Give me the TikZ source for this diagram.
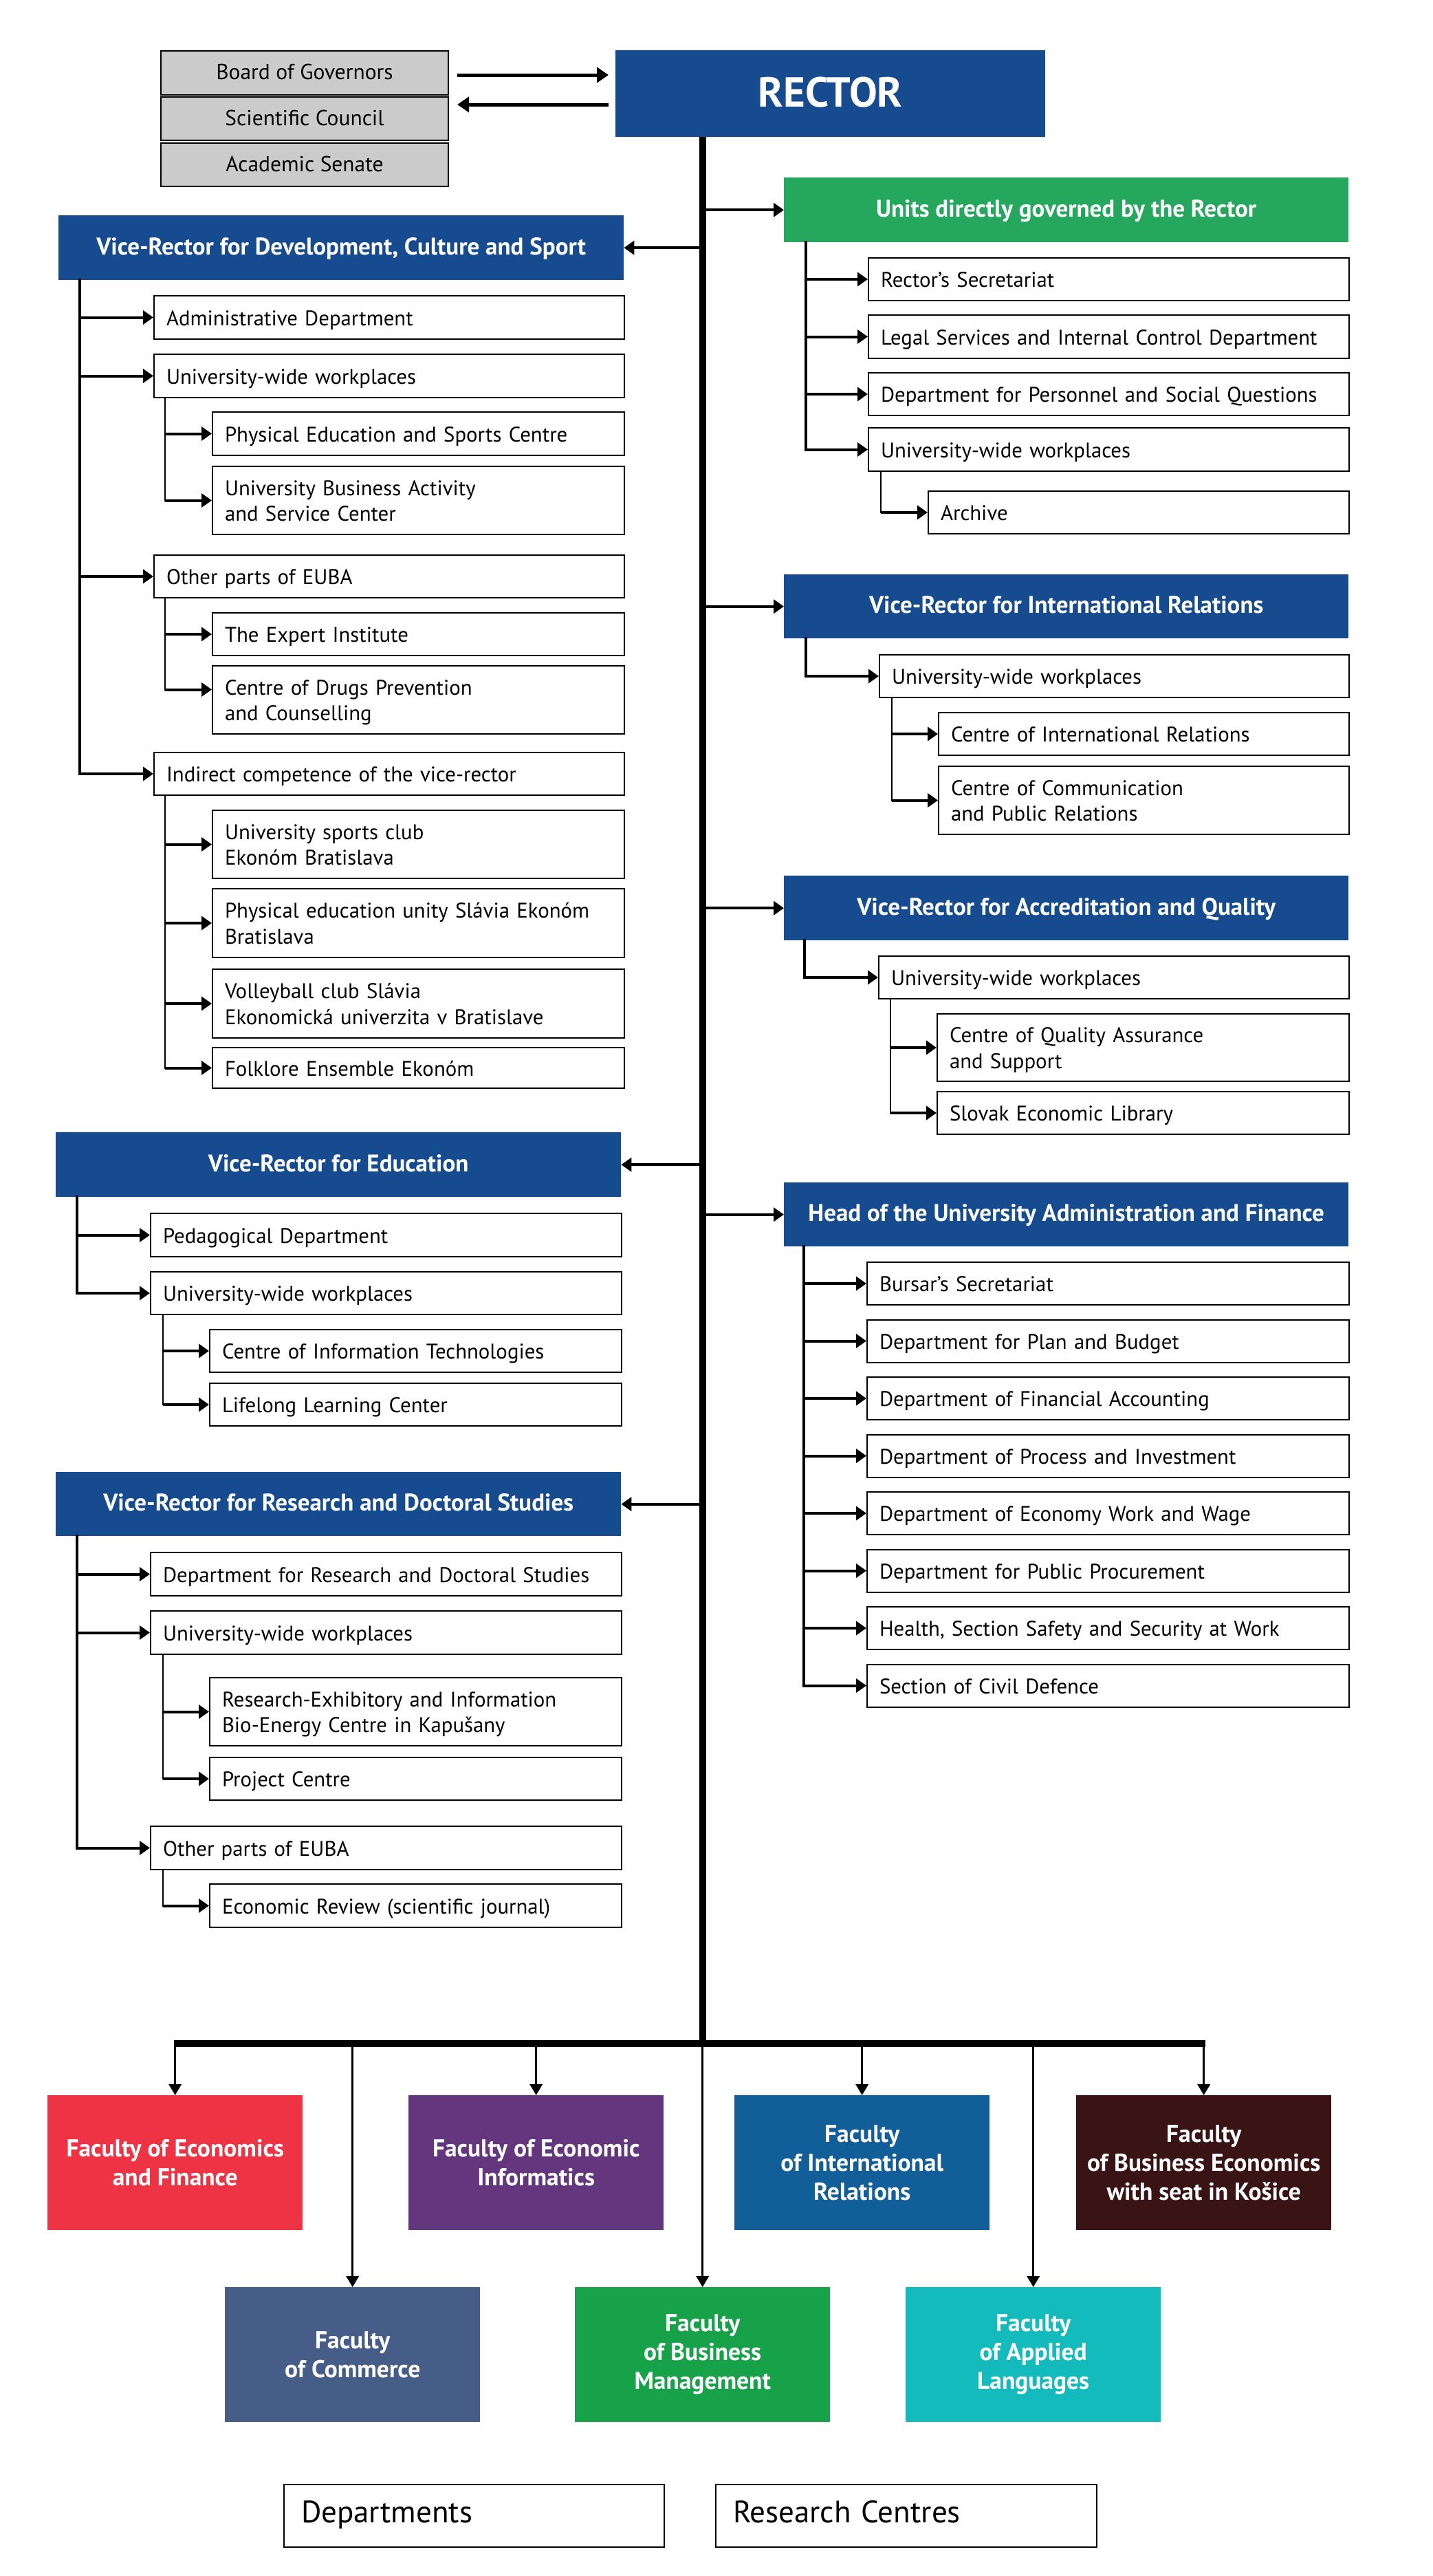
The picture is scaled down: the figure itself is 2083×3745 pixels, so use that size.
\documentclass[tikz,border=0pt]{standalone}
\usepackage{fontspec}
\setmainfont{PT Sans}
\usetikzlibrary{arrows.meta,calc}
\definecolor{vrblue}{HTML}{164B8F}
\definecolor{ugreen}{HTML}{25A85D}
\definecolor{fefred}{HTML}{EE3444}
\definecolor{feipurple}{HTML}{63367D}
\definecolor{firblue}{HTML}{115E99}
\definecolor{fbebrown}{HTML}{3A1414}
\definecolor{fcblue}{HTML}{465D87}
\definecolor{fbmgreen}{HTML}{17A24A}
\definecolor{falteal}{HTML}{13BBBC}
\definecolor{govgray}{HTML}{CCCBCB}
\newcommand\fsmall{\fontsize{30.8}{37.5}\selectfont}
\newcommand\fgov{\fontsize{31.5}{37.5}\selectfont}
\newcommand\fhdr{\fontsize{35}{40}\selectfont\bfseries}
\newcommand\ffac{\fontsize{35.5}{42}\selectfont\bfseries}
\newcommand\fleg{\fontsize{45}{50}\selectfont}
\newcommand\tstr[1]{\rule{0pt}{#1pt}}
\newcommand\bstr[1]{\rule[-#1pt]{0pt}{#1pt}}
\tikzset{
  wbox/.style={draw=black,line width=2pt,fill=white,anchor=north west,align=left,inner xsep=18pt,inner ysep=0pt,font=\fsmall},
  hbox/.style={anchor=north west,inner sep=0pt,text=white,font=\fhdr},
  fbox/.style={anchor=north west,inner sep=0pt,text=white,font=\ffac,align=center,minimum width=371pt,minimum height=196pt},
  gbox/.style={draw=black,line width=2pt,fill=govgray,anchor=north west,inner sep=0pt,font=\fgov,minimum width=418pt},
  legbox/.style={draw=black,line width=2pt,fill=white,anchor=north west,align=left,inner xsep=25pt,inner ysep=0pt,font=\fleg},
  arr/.style={line width=4pt,-{Triangle[length=15pt,width=20pt]}},
  tarr/.style={line width=5pt,-{Triangle[length=17pt,width=22pt]}},
  farr/.style={line width=3.5pt,-{Triangle[length=16pt,width=18pt]}},
  brl/.style={line width=4pt,line cap=rect},
  sbl/.style={line width=2.5pt,line cap=rect},
}
\newcommand\mkw[6]{%
  \pgfmathsetmacro\bw{#4-#2}\pgfmathsetmacro\bh{#5-#3}\pgfmathsetmacro\tw{#4-#2-36}%
  \node[wbox,minimum width=\bw pt,minimum height=\bh pt,text width=\tw pt] (#1) at (#2,#3) {\tstr{30.25}#6\bstr{7.25}};}
\newcommand\mkh[7]{%
  \pgfmathsetmacro\bw{#4-#2}\pgfmathsetmacro\bh{#5-#3}%
  \node[hbox,fill=#6,minimum width=\bw pt,minimum height=\bh pt] (#1) at (#2,#3) {\tstr{30}#7\bstr{10}};}
\newcommand\mkf[5]{%
  \node[fbox,fill=#4] (#1) at (#2,#3) {#5};}
\newcommand\mkg[4]{%
  \pgfmathsetmacro\bh{#3-#2}%
  \node[gbox,minimum height=\bh pt] (#1) at (233,#2) {\tstr{28.25}#4\bstr{9.25}};}
\begin{document}
\begin{tikzpicture}[x=1pt,y=-1pt]
\fill[white] (0,0) rectangle (2083,3745);
\useasboundingbox (0,0) rectangle (2083,3745);

% top
\mkg{board}{73}{137}{Board of Governors}
\mkg{sci}{140}{203}{Scientific Council}
\mkg{acad}{207}{270}{Academic Senate}
\node[hbox,fill=vrblue,minimum width=625pt,minimum height=126pt,font=\fontsize{61}{62}\selectfont\bfseries] (rector) at (895,73) {RECTOR\bstr{4}};

% headers
\mkh{units}{1140}{258}{1961}{352}{ugreen}{Units directly governed by the Rector}
\mkh{dev}{85}{313}{907}{407}{vrblue}{Vice-Rector for Development, Culture and Sport}
\mkh{intl}{1140}{835}{1961}{928}{vrblue}{Vice-Rector for International Relations}
\mkh{accr}{1140}{1273}{1961}{1367}{vrblue}{Vice-Rector for Accreditation and Quality}
\mkh{edu}{81}{1646}{903}{1740}{vrblue}{Vice-Rector for Education}
\mkh{head}{1140}{1719}{1961}{1812}{vrblue}{Head of the University Administration and Finance}
\mkh{res}{81}{2140}{903}{2233}{vrblue}{Vice-Rector for Research and Doctoral Studies}

% units
\mkw{rs}{1262}{374}{1961}{436}{Rector’s Secretariat}
\mkw{legal}{1262}{457}{1961}{520}{Legal Services and Internal Control Department}
\mkw{pers}{1262}{541}{1961}{603}{Department for Personnel and Social Questions}
\mkw{uwwa}{1262}{621}{1961}{684}{University-wide workplaces}
\mkw{archive}{1349}{713}{1961}{775}{Archive}

% intl
\mkw{uwwb}{1278}{951}{1961}{1013}{University-wide workplaces}
\mkw{cir}{1364}{1035}{1961}{1097}{Centre of International Relations}
\mkw{ccpr}{1364}{1113}{1961}{1212}{Centre of Communication\\and Public Relations}

% accr
\mkw{uwwc}{1277}{1389}{1961}{1451}{University-wide workplaces}
\mkw{cqas}{1362}{1473}{1961}{1571}{Centre of Quality Assurance\\and Support}
\mkw{sel}{1362}{1586}{1961}{1648}{Slovak Economic Library}

% head admin
\mkw{hA}{1260}{1834}{1961}{1896}{Bursar’s Secretariat}
\mkw{hB}{1260}{1917.5}{1961}{1979.5}{Department for Plan and Budget}
\mkw{hC}{1260}{2001}{1961}{2063}{Department of Financial Accounting}
\mkw{hD}{1260}{2084.5}{1961}{2146.5}{Department of Process and Investment}
\mkw{hE}{1260}{2168}{1961}{2230}{Department of Economy Work and Wage}
\mkw{hF}{1260}{2251.5}{1961}{2313.5}{Department for Public Procurement}
\mkw{hG}{1260}{2335}{1961}{2397}{Health, Section Safety and Security at Work}
\mkw{hH}{1260}{2418.5}{1961}{2480.5}{Section of Civil Defence}

% dev
\mkw{admin}{223}{429}{907}{492}{Administrative Department}
\mkw{uwwd}{223}{514}{907}{577}{University-wide workplaces}
\mkw{pesc}{308}{598}{907}{661}{Physical Education and Sports Centre}
\mkw{ubasc}{308}{677}{907}{776}{University Business Activity\\and Service Center}
\mkw{othera}{223}{806}{907}{868}{Other parts of EUBA}
\mkw{expert}{308}{890}{907}{952}{The Expert Institute}
\mkw{drugs}{308}{967}{907}{1066}{Centre of Drugs Prevention\\and Counselling}
\mkw{indirect}{223}{1093}{907}{1155}{Indirect competence of the vice-rector}
\mkw{usc}{308}{1177}{907}{1276}{University sports club\\Ekonóm Bratislava}
\mkw{peu}{308}{1291}{907}{1391}{Physical education unity Slávia Ekonóm\\Bratislava}
\mkw{vb}{308}{1408}{907}{1508}{Volleyball club Slávia\\Ekonomická univerzita v Bratislave}
\mkw{folk}{308}{1522}{907}{1581}{Folklore Ensemble Ekonóm}

% edu
\mkw{ped}{218}{1763}{903}{1826}{Pedagogical Department}
\mkw{uwwe}{218}{1848}{903}{1910}{University-wide workplaces}
\mkw{cit}{304}{1932}{903}{1994}{Centre of Information Technologies}
\mkw{llc}{304}{2010}{903}{2072}{Lifelong Learning Center}

% res
\mkw{drds}{218}{2256}{903}{2319}{Department for Research and Doctoral Studies}
\mkw{uwwf}{218}{2341}{903}{2404}{University-wide workplaces}
\mkw{rebc}{304}{2438}{903}{2537}{Research-Exhibitory and Information\\Bio-Energy Centre in Kapušany}
\mkw{proj}{304}{2554}{903}{2616}{Project Centre}
\mkw{otherb}{218}{2654}{903}{2717}{Other parts of EUBA}
\mkw{er}{304}{2738}{903}{2801}{Economic Review (scientific journal)}

% faculties
\mkf{fef}{69}{3046}{fefred}{Faculty of Economics\\and Finance}
\mkf{fei}{594}{3046}{feipurple}{Faculty of Economic\\Informatics}
\mkf{fir}{1068}{3046}{firblue}{Faculty\\of International\\Relations}
\mkf{fbe}{1565}{3046}{fbebrown}{Faculty\\of Business Economics\\with seat in Košice}
\mkf{fc}{327}{3325}{fcblue}{Faculty\\of Commerce}
\mkf{fbm}{836}{3325}{fbmgreen}{Faculty\\of Business\\Management}
\mkf{fal}{1317}{3325}{falteal}{Faculty\\of Applied\\Languages}

% legend
\node[legbox,minimum width=553pt,minimum height=91pt,text width=503pt] (dep) at (412,3611) {\strut Departments};
\node[legbox,minimum width=554pt,minimum height=91pt,text width=504pt] (rcs) at (1040,3611) {\strut Research Centres};

% top arrows
\path (board.east) ++(12,3) coordinate (ba);
\draw[tarr,shorten >=10pt] (ba) -- (ba -| rector.west);
\path (sci.east) ++(12,-20.5) coordinate (sa);
\draw[tarr,shorten <=10pt] (sa -| rector.west) -- (sa);

% trunk
\coordinate (tk) at ([xshift=127pt]rector.south west);
\coordinate (bar) at (1022,2971);
\draw[line width=10pt] (tk) -- (bar);
\foreach \n in {units,intl,accr,head}
  \draw[arr] (tk |- \n.west) -- (\n.west);
\foreach \n in {dev,edu,res}
  \draw[arr] (tk |- \n.east) -- (\n.east);

% branches right
\coordinate (bU) at ([xshift=32pt]units.south west);
\draw[brl] (bU) -- (bU |- uwwa.west);
\foreach \n in {rs,legal,pers,uwwa} \draw[arr] (bU |- \n.west) -- (\n.west);
\coordinate (sU) at ([xshift=19pt]uwwa.south west);
\draw[sbl] (sU) -- (sU |- archive.west);
\draw[arr] (sU |- archive.west) -- (archive.west);

\coordinate (bI) at ([xshift=32pt]intl.south west);
\draw[brl] (bI) -- (bI |- uwwb.west);
\draw[arr] (bI |- uwwb.west) -- (uwwb.west);
\coordinate (sI) at ([xshift=19pt]uwwb.south west);
\draw[sbl] (sI) -- (sI |- ccpr.west);
\foreach \n in {cir,ccpr} \draw[arr] (sI |- \n.west) -- (\n.west);

\coordinate (bA) at ([xshift=30pt]accr.south west);
\draw[brl] (bA) -- (bA |- uwwc.west);
\draw[arr] (bA |- uwwc.west) -- (uwwc.west);
\coordinate (sA) at ([xshift=18pt]uwwc.south west);
\draw[sbl] (sA) -- (sA |- sel.west);
\foreach \n in {cqas,sel} \draw[arr] (sA |- \n.west) -- (\n.west);

\coordinate (bH) at ([xshift=29pt]head.south west);
\draw[brl] (bH) -- (bH |- hH.west);
\foreach \n in {hA,hB,hC,hD,hE,hF,hG,hH} \draw[arr] (bH |- \n.west) -- (\n.west);

% branches left
\coordinate (bD) at ([xshift=31pt]dev.south west);
\draw[brl] (bD) -- (bD |- indirect.west);
\foreach \n in {admin,uwwd,othera,indirect} \draw[arr] (bD |- \n.west) -- (\n.west);
\coordinate (sD1) at ([xshift=17pt]uwwd.south west);
\draw[sbl] (sD1) -- (sD1 |- ubasc.west);
\foreach \n in {pesc,ubasc} \draw[arr] (sD1 |- \n.west) -- (\n.west);
\coordinate (sD2) at ([xshift=17pt]othera.south west);
\coordinate (dr) at ([yshift=15pt]drugs.west);
\draw[sbl] (sD2) -- (sD2 |- dr);
\draw[arr] (sD2 |- expert.west) -- (expert.west);
\draw[arr] (sD2 |- dr) -- (dr);
\coordinate (sD3) at ([xshift=17pt]indirect.south west);
\draw[sbl] (sD3) -- (sD3 |- folk.west);
\foreach \n in {usc,peu,vb,folk} \draw[arr] (sD3 |- \n.west) -- (\n.west);

\coordinate (bE) at ([xshift=31pt]edu.south west);
\draw[brl] (bE) -- (bE |- uwwe.west);
\foreach \n in {ped,uwwe} \draw[arr] (bE |- \n.west) -- (\n.west);
\coordinate (sE) at ([xshift=19pt]uwwe.south west);
\draw[sbl] (sE) -- (sE |- llc.west);
\foreach \n in {cit,llc} \draw[arr] (sE |- \n.west) -- (\n.west);

\coordinate (bR) at ([xshift=31pt]res.south west);
\draw[brl] (bR) -- (bR |- otherb.west);
\foreach \n in {drds,uwwf,otherb} \draw[arr] (bR |- \n.west) -- (\n.west);
\coordinate (sR1) at ([xshift=19pt]uwwf.south west);
\draw[sbl] (sR1) -- (sR1 |- proj.west);
\foreach \n in {rebc,proj} \draw[arr] (sR1 |- \n.west) -- (\n.west);
\coordinate (sR2) at ([xshift=19pt]otherb.south west);
\draw[sbl] (sR2) -- (sR2 |- er.west);
\draw[arr] (sR2 |- er.west) -- (er.west);

% faculties
\draw[line width=10pt] ([xshift=-2pt]fef.north |- bar) -- ([xshift=2pt]fbe.north |- bar);
\foreach \n in {fef,fc,fei,fbm,fir,fal,fbe} \draw[farr] (\n.north |- bar) -- (\n.north);
\end{tikzpicture}
\end{document}
